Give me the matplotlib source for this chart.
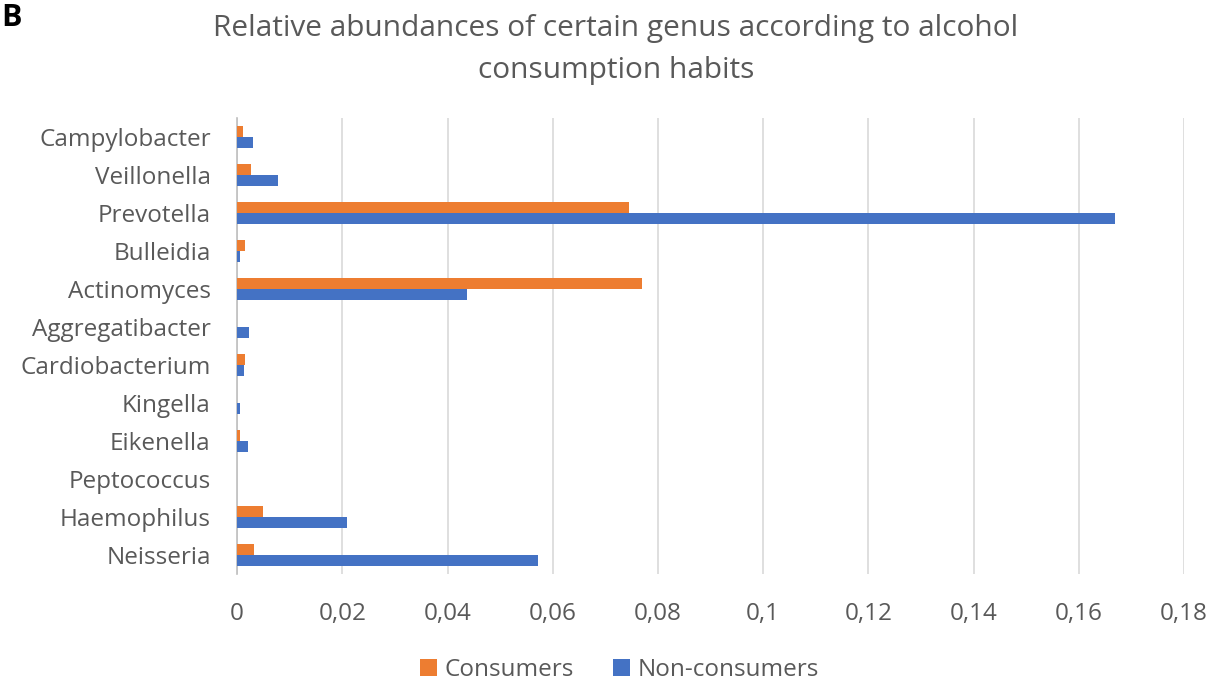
import numpy as np
import matplotlib.pyplot as plt
from matplotlib.ticker import FuncFormatter

plt.rcParams['font.family'] = ['Open Sans', 'DejaVu Sans']

genus = ['Campylobacter', 'Veillonella', 'Prevotella', 'Bulleidia', 'Actinomyces',
         'Aggregatibacter', 'Cardiobacterium', 'Kingella', 'Eikenella', 'Peptococcus',
         'Haemophilus', 'Neisseria']
consumers = [0.0011, 0.0026, 0.0745, 0.0016, 0.0770, 0.0, 0.0016, 0.0, 0.0005, 0.0,
             0.0050, 0.0033]
non_consumers = [0.0030, 0.0078, 0.1668, 0.0005, 0.0437, 0.0023, 0.0013, 0.0005, 0.0020,
                 0.0, 0.0209, 0.0572]
xticks = [0, 0.02, 0.04, 0.06, 0.08, 0.1, 0.12, 0.14, 0.16, 0.18]

grey = '#595959'
fig = plt.figure(figsize=(12.22, 6.82), dpi=100)
ax = fig.add_axes([0.194, 0.158, 0.775, 0.669])

y = np.arange(len(genus))
h = 0.29
ax.barh(y - h / 2, consumers, height=h, color='#ED7D31', label='Consumers', zorder=3)
ax.barh(y + h / 2, non_consumers, height=h, color='#4472C4', label='Non-consumers', zorder=3)

ax.set_ylim(len(genus) - 0.5, -0.5)
ax.set_yticks(y)
ax.set_yticklabels(genus)
ax.set_xlim(0, 0.18)
ax.set_xticks(xticks)
ax.xaxis.set_major_formatter(FuncFormatter(lambda v, p: ('%g' % round(v, 2)).replace('.', ',')))
ax.tick_params(axis='both', length=0, labelsize=17.5, colors=grey)
ax.tick_params(axis='x', pad=20)
ax.tick_params(axis='y', pad=19)
ax.grid(axis='x', color='#D9D9D9', linewidth=1.2, zorder=0)
for s in ['top', 'right', 'bottom']:
    ax.spines[s].set_visible(False)
ax.spines['left'].set_color('#BFBFBF')
ax.spines['left'].set_linewidth(1.2)

fig.text(0.504, 0.98, 'Relative abundances of certain genus according to alcohol\nconsumption habits',
         ha='center', va='top', fontsize=21.5, color=grey, linespacing=1.6)
fig.text(0.001, 0.995, 'B', ha='left', va='top', fontsize=22, fontweight='bold', color='black')

leg = fig.legend(loc='center', bbox_to_anchor=(0.507, 0.018), ncol=2, frameon=False,
                 fontsize=17.5, handlelength=0.7, handleheight=0.7, handletextpad=0.3,
                 columnspacing=1.6)
for t in leg.get_texts():
    t.set_color(grey)

fig.savefig('out.png', dpi=100)
